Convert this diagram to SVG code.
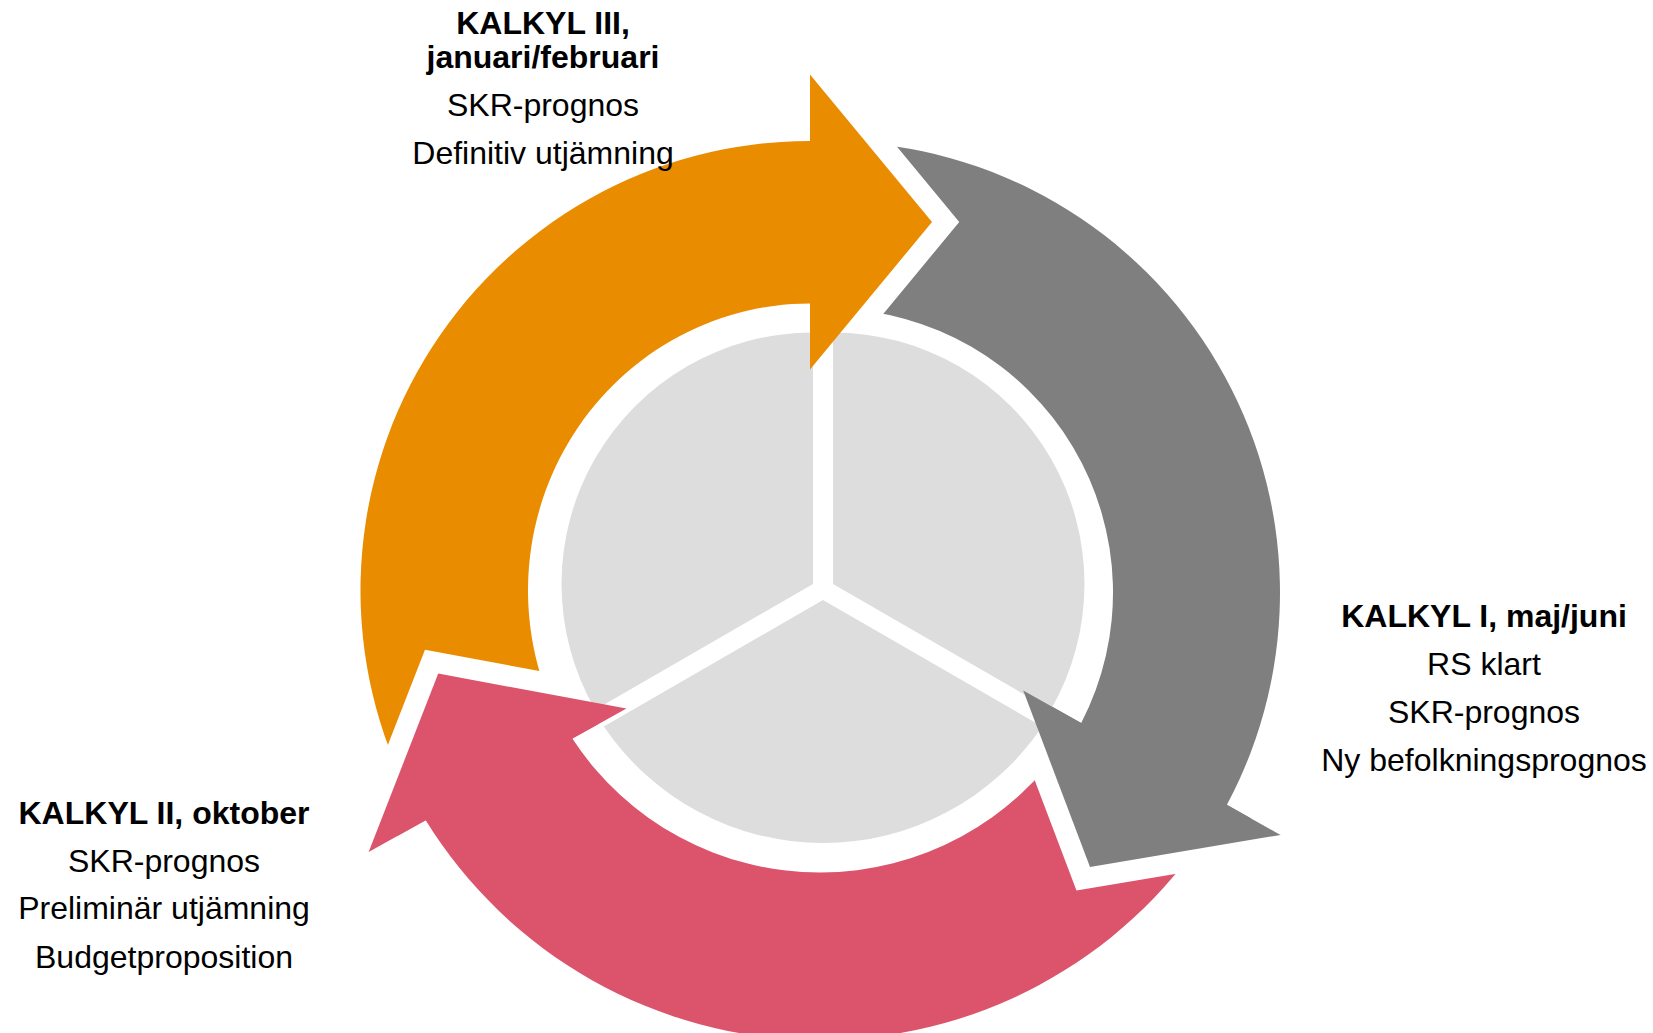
<svg xmlns="http://www.w3.org/2000/svg" xmlns:xlink="http://www.w3.org/1999/xlink" width="1653" height="1033" viewBox="0 0 1653 1033">
<style>
.t{font-family:"Liberation Sans",Arial,sans-serif;font-size:32px;fill:#000;text-anchor:middle}
.b{font-weight:bold}
.band{fill:none;stroke:#fff;stroke-width:42;stroke-linejoin:miter;stroke-miterlimit:10}
.pie{fill:#DDDDDD}
.o{fill:#EA8C00}
.g{fill:#7F7F7F}
.p{fill:#DB546C}
</style>
<defs>
<path id="headO" d="M810 74.5 L932 222 L810 369.5"/>
<path id="headG" d="M1280.49 834.92 L1090 867 L1023.23 690.55"/>
<path id="headP" d="M368.66 851.93 L438.23 673.58 L626.47 708.47"/>
</defs>
<rect width="1653" height="1033" fill="#fff"/>
<g id="connectors">
<path id="arrow-orange" class="o" d="M413.11 801.53 A449.5 449.5 0 0 1 810 141 L810 74.5 L932 222 L810 369.5 L810 303.5 A282 287 0 0 0 561 725.2 Z"/>
<path id="arrow-gray" class="g" d="M836.87 141.57 A451 451 0 0 1 1226.9 804.8 L1280.49 834.92 L1090 867 L1023.23 690.55 L1081.2 723.1 A284 284 0 0 0 833.96 308.54 Z"/>
<path id="arrow-pink" class="p" d="M1208.72 829.04 A463.5 463.5 0 0 1 425.68 820.25 L368.66 851.93 L438.23 673.58 L626.47 708.47 L572.32 738.61 A296 296 0 0 0 1068.25 737.81 Z"/>
<use xlink:href="#headO" class="band"/>
<use xlink:href="#headG" class="band"/>
<use xlink:href="#headP" class="band"/>
</g>
<g id="pie">
<path class="pie" d="M813 584 L595.2 709.75 A251.5 251.5 0 0 1 813 332.5 Z"/>
<path class="pie" d="M833 584 L833 332.5 A251.5 251.5 0 0 1 1050.8 709.75 Z"/>
<path class="pie" d="M823 600 L1042.15 726.5 A264.4 264.4 0 0 1 603.85 726.5 Z"/>
</g>
<g id="arrowheads">
<path class="o" d="M810 74.5 L932 222 L810 369.5 Z"/>
<path class="g" d="M1280.49 834.92 L1090 867 L1023.23 690.55 Z"/>
<path class="p" d="M368.66 851.93 L438.23 673.58 L626.47 708.47 Z"/>
</g>
<g id="kalkyl-3">
<text class="t b" x="543" y="33.5">KALKYL III,</text>
<text class="t b" x="543" y="68">januari/februari</text>
<text class="t" x="543" y="115.5">SKR-prognos</text>
<text class="t" x="543" y="163.5">Definitiv utjämning</text>
</g>
<g id="kalkyl-1">
<text class="t b" x="1484" y="626.5">KALKYL I, maj/juni</text>
<text class="t" x="1484" y="674.5">RS klart</text>
<text class="t" x="1484" y="723">SKR-prognos</text>
<text class="t" x="1484" y="771">Ny befolkningsprognos</text>
</g>
<g id="kalkyl-2">
<text class="t b" x="164" y="823.5">KALKYL II, oktober</text>
<text class="t" x="164" y="871.5">SKR-prognos</text>
<text class="t" x="164" y="919">Preliminär utjämning</text>
<text class="t" x="164" y="968">Budgetproposition</text>
</g>
</svg>
